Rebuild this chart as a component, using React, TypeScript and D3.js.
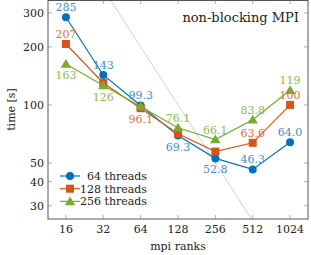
import * as d3 from "d3";
import React from "react";

// chart data
const ranks = ["16", "32", "64", "128", "256", "512", "1024"];
const threads64 = [285, 143, 99.3, 69.3, 52.8, 46.3, 64.0];
const threads128 = [207, 130, 96.1, 70.8, 57.3, 63.6, 100];
const threads256 = [163, 126, 98, 76.1, 66.1, 83.8, 119];
const idealConst = 12800; // ideal scaling line: time = C / ranks
const yTicks = [30, 40, 50, 100, 200, 300];

// which labels are shown, and where ("a" above, "b" below, "" none)
const labels64 = ["a", "a", "a", "b", "b", "a", "a"];
const labels128 = ["a", "", "b", "", "", "a", "a"];
const labels256 = ["b", "b", "", "a", "a", "a", "a"];

const W = 311;
const H = 255;
const margin = { left: 48, right: 3, top: 0, bottom: 36 };
const FONT = "'DejaVu Serif'";

const series = [
  { name: "64 threads", values: threads64, labels: labels64, color: "#0072BD", text: "#3B8FD3", marker: "circle" },
  { name: "128 threads", values: threads128, labels: labels128, color: "#D95319", text: "#E2703E", marker: "square" },
  { name: "256 threads", values: threads256, labels: labels256, color: "#77AC30", text: "#8DBB4E", marker: "triangle" },
];

const fmt = (v: number) => (v >= 100 ? d3.format(".0f")(v) : d3.format(".1f")(v));

const Marker = ({ type, x, y, color }: { type: string; x: number; y: number; color: string }) => {
  if (type === "circle") return <circle cx={x} cy={y} r={4} fill={color} />;
  if (type === "square") return <rect x={x - 4} y={y - 4} width={8} height={8} fill={color} />;
  const s = 5;
  return <path d={`M${x},${y - s}L${x + s * 1.05},${y + s * 0.75}L${x - s * 1.05},${y + s * 0.75}Z`} fill={color} />;
};

export default function App() {
  const x0 = margin.left;
  const x1 = W - margin.right;
  const y0 = margin.top;
  const y1 = H - margin.bottom;

  const x = d3.scalePoint().domain(ranks).range([x0, x1]).padding(0.48);
  const y = d3.scaleLog().domain([25.6, 350]).range([y1, y0]);

  const line = d3
    .line<number>()
    .x((_, i) => x(ranks[i]) as number)
    .y((d) => y(d));

  const idealPts = ranks.map((r) => idealConst / +r);
  const ts = { fontFamily: FONT };

  return (
    <svg width={W} height={H} style={{ position: "absolute", left: 0, top: 0, fontFamily: FONT }}>
      <defs>
        <clipPath id="plot">
          <rect x={x0} y={y0} width={x1 - x0} height={y1 - y0} />
        </clipPath>
      </defs>
      <rect width={W} height={H} fill="#fff" />

      <path d={line(idealPts) || ""} fill="none" stroke="#b0b0b0" strokeWidth={0.6} clipPath="url(#plot)" />

      {series.map((s) => (
        <g key={s.name}>
          <path d={line(s.values) || ""} fill="none" stroke={s.color} strokeWidth={1.2} />
          {s.values.map((v, i) => (
            <Marker key={i} type={s.marker} x={x(ranks[i]) as number} y={y(v)} color={s.color} />
          ))}
        </g>
      ))}

      {series.map((s) =>
        s.values.map((v, i) =>
          s.labels[i] ? (
            <text
              key={s.name + i}
              x={x(ranks[i]) as number}
              y={y(v) + (s.labels[i] === "a" ? -6 : 15)}
              textAnchor="middle"
              fontSize={11}
              fill={s.text}
              style={ts}
            >
              {fmt(v)}
            </text>
          ) : null
        )
      )}

      {/* frame */}
      <rect x={x0} y={y0 + 0.5} width={x1 - x0} height={y1 - y0 - 0.5} fill="none" stroke="#444" strokeWidth={0.9} />

      {/* ticks */}
      {ranks.map((r) => (
        <g key={r}>
          <line x1={x(r)} x2={x(r)} y1={y1} y2={y1 - 4} stroke="#777" strokeWidth={0.6} />
          <line x1={x(r)} x2={x(r)} y1={y0} y2={y0 + 4} stroke="#777" strokeWidth={0.6} />
          <text x={x(r)} y={y1 + 14} textAnchor="middle" fontSize={11} fill="#222" style={ts}>
            {r}
          </text>
        </g>
      ))}
      {yTicks.map((t) => (
        <g key={t}>
          <line x1={x0} x2={x0 + 4} y1={y(t)} y2={y(t)} stroke="#777" strokeWidth={0.6} />
          <line x1={x1} x2={x1 - 4} y1={y(t)} y2={y(t)} stroke="#777" strokeWidth={0.6} />
          <text x={x0 - 4} y={y(t) + 4} textAnchor="end" fontSize={11} fill="#222" style={ts}>
            {t}
          </text>
        </g>
      ))}

      {/* axis labels */}
      <text x={(x0 + x1) / 2} y={H - 5} textAnchor="middle" fontSize={11} fill="#222" style={ts}>
        mpi ranks
      </text>
      <text transform={`translate(15,${(y0 + y1) / 2}) rotate(-90)`} textAnchor="middle" fontSize={11} fill="#222" style={ts}>
        time [s]
      </text>

      {/* title */}
      <text x={x1 - 9} y={22} textAnchor="end" fontSize={13} fill="#222" style={ts}>
        non-blocking MPI
      </text>

      {/* legend */}
      {series.map((s, i) => {
        const ly = 176 + i * 12.7;
        return (
          <g key={s.name}>
            <line x1={60} x2={80} y1={ly} y2={ly} stroke={s.color} strokeWidth={1.2} />
            <Marker type={s.marker} x={70} y={ly} color={s.color} />
            <text x={147} y={ly + 4} textAnchor="end" fontSize={11} fill="#222" style={ts}>
              {s.name}
            </text>
          </g>
        );
      })}
    </svg>
  );
}
